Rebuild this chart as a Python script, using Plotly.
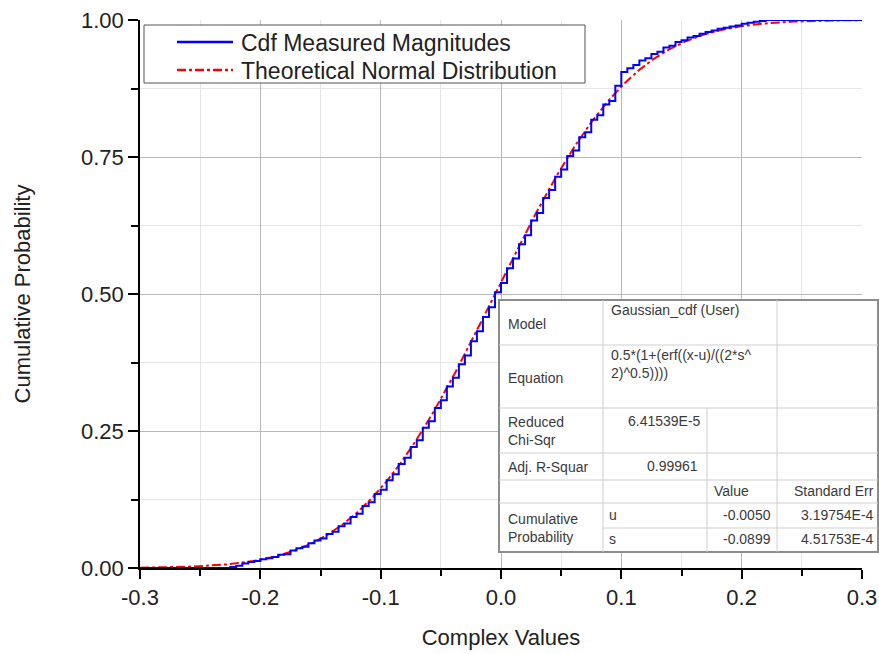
import math
import plotly.graph_objects as go

# Empirical cumulative distribution of the measured magnitudes (bin edge, cumulative probability)
cdf_x = [-0.300, -0.230, -0.225, -0.220, -0.215, -0.210, -0.205, -0.200, -0.195, -0.190,
         -0.185, -0.180, -0.175, -0.170, -0.165, -0.160, -0.155, -0.150, -0.145, -0.140,
         -0.135, -0.130, -0.125, -0.120, -0.115, -0.110, -0.105, -0.100, -0.095, -0.090,
         -0.085, -0.080, -0.075, -0.070, -0.065, -0.060, -0.055, -0.050, -0.045, -0.040,
         -0.035, -0.030, -0.025, -0.020, -0.015, -0.010, -0.005, 0.000, 0.005, 0.010,
         0.015, 0.020, 0.025, 0.030, 0.035, 0.040, 0.045, 0.050, 0.055, 0.060,
         0.065, 0.070, 0.075, 0.080, 0.085, 0.090, 0.095, 0.100, 0.105, 0.110,
         0.115, 0.120, 0.125, 0.130, 0.135, 0.140, 0.145, 0.150, 0.155, 0.160,
         0.165, 0.170, 0.175, 0.180, 0.185, 0.190, 0.195, 0.200, 0.205, 0.210,
         0.215, 0.220, 0.300]
cdf_y = [0.000, 0.000, 0.002, 0.004, 0.008, 0.011, 0.013, 0.016, 0.018, 0.020,
         0.024, 0.025, 0.032, 0.036, 0.039, 0.045, 0.050, 0.054, 0.062, 0.066,
         0.076, 0.081, 0.093, 0.099, 0.113, 0.120, 0.135, 0.143, 0.160, 0.171,
         0.190, 0.201, 0.221, 0.233, 0.256, 0.268, 0.292, 0.306, 0.331, 0.347,
         0.372, 0.388, 0.414, 0.432, 0.458, 0.476, 0.503, 0.520, 0.547, 0.565,
         0.591, 0.607, 0.634, 0.648, 0.675, 0.690, 0.714, 0.727, 0.752, 0.762,
         0.786, 0.795, 0.818, 0.826, 0.846, 0.852, 0.880, 0.905, 0.912, 0.918,
         0.926, 0.930, 0.938, 0.942, 0.950, 0.953, 0.960, 0.963, 0.968, 0.971,
         0.975, 0.978, 0.981, 0.984, 0.986, 0.988, 0.990, 0.993, 0.995, 0.997,
         0.998, 1.000, 1.000]

# Fitted Gaussian_cdf parameters
fit_u = -0.0050
fit_s = -0.0899

x_ticks = [-0.3, -0.2, -0.1, 0.0, 0.1, 0.2, 0.3]
x_tick_text = ["-0.3", "-0.2", "-0.1", "0.0", "0.1", "0.2", "0.3"]
y_ticks = [0.00, 0.25, 0.50, 0.75, 1.00]
y_tick_text = ["0.00", "0.25", "0.50", "0.75", "1.00"]

series_names = ["Cdf Measured Magnitudes", "Theoretical Normal Distribution"]
series_colors = ["#0000ff", "#ff0000"]
series_dash = ["solid", "dashdot"]

# Theoretical curve: 0.5*(1+erf((x-u)/((2*s^2)^0.5)))
theo_x = [-0.3 + i * 0.6 / 600 for i in range(601)]
theo_y = [0.5 * (1 + math.erf((x - fit_u) / math.sqrt(2 * fit_s ** 2))) for x in theo_x]

FONT = "Liberation Sans, Arial, sans-serif"
W, H = 879, 654
ML, MR, MT, MB = 140, 17, 20, 86
PW, PH = W - ML - MR, H - MT - MB


def px_x(p):
    return (p - ML) / PW


def px_y(p):
    return (MT + PH - p) / PH


fig = go.Figure()
fig.add_trace(go.Scatter(
    x=theo_x, y=theo_y, mode="lines", name=series_names[1], showlegend=False,
    line=dict(color=series_colors[1], width=2, dash=series_dash[1])))
fig.add_trace(go.Scatter(
    x=cdf_x, y=cdf_y, mode="lines", name=series_names[0], showlegend=False,
    line=dict(color=series_colors[0], width=2, shape="hv")))

shapes = []
annotations = []

# Legend box with line samples
L_L, L_R, L_T, L_B = 144, 585, 25, 83
shapes.append(dict(type="rect", xref="paper", yref="paper",
                   x0=px_x(L_L), x1=px_x(L_R), y0=px_y(L_T), y1=px_y(L_B),
                   fillcolor="white", line=dict(color="#555555", width=1), layer="above"))
for i, (name, col, dash) in enumerate(zip(series_names, series_colors, series_dash)):
    yy = 42 + 28 * i
    shapes.append(dict(type="line", xref="paper", yref="paper",
                       x0=px_x(177), x1=px_x(233), y0=px_y(yy), y1=px_y(yy),
                       line=dict(color=col, width=2.5, dash=dash), layer="above"))
    annotations.append(dict(text=name, x=px_x(239), y=px_y(yy + 1), xref="paper", yref="paper",
                            xanchor="left", yanchor="middle", showarrow=False,
                            font=dict(family=FONT, size=23, color="#222222")))

# Fit results table
T_L, T_R, T_T, T_B = 499, 878, 300, 552
shapes.append(dict(type="rect", xref="paper", yref="paper",
                   x0=px_x(T_L), x1=px_x(T_R), y0=px_y(T_T), y1=px_y(T_B),
                   fillcolor="white", line=dict(color="#8c8c8c", width=2), layer="above"))
grid_col = "#cfcfcf"
for yy, xa in [(345, T_L), (408, T_L), (453, T_L), (480, T_L), (503, T_L), (528, 603)]:
    shapes.append(dict(type="line", xref="paper", yref="paper", x0=px_x(xa), x1=px_x(T_R),
                       y0=px_y(yy), y1=px_y(yy), line=dict(color=grid_col, width=1), layer="above"))
for xx, ya in [(603, T_T), (707, 408), (777, T_T)]:
    shapes.append(dict(type="line", xref="paper", yref="paper", x0=px_x(xx), x1=px_x(xx),
                       y0=px_y(ya), y1=px_y(T_B), line=dict(color=grid_col, width=1), layer="above"))

cells = [
    ("Model", 506, 324, "left"),
    ("Gaussian_cdf (User)", 609, 310, "left"),
    ("Equation", 506, 378, "left"),
    ("0.5*(1+(erf((x-u)/((2*s^<br>2)^0.5))))", 609, 364, "left"),
    ("Reduced<br>Chi-Sqr", 506, 431, "left"),
    ("6.41539E-5", 703, 421, "right"),
    ("Adj. R-Squar", 506, 467, "left"),
    ("0.99961", 700, 466, "right"),
    ("Value", 712, 491, "left"),
    ("Standard Err", 876, 491, "right"),
    ("Cumulative<br>Probability", 506, 528, "left"),
    ("u", 607, 515, "left"),
    ("-0.0050", 773, 515, "right"),
    ("3.19754E-4", 876, 515, "right"),
    ("s", 607, 539, "left"),
    ("-0.0899", 773, 539, "right"),
    ("4.51753E-4", 876, 539, "right"),
]
for text, ax_, ay_, align in cells:
    annotations.append(dict(text=text, x=px_x(ax_), y=px_y(ay_), xref="paper", yref="paper",
                            xanchor=align, yanchor="middle", align="left", showarrow=False,
                            font=dict(family=FONT, size=14, color="#3a3a3a")))

fig.update_layout(
    width=W, height=H,
    margin=dict(l=ML, r=MR, t=MT, b=MB, autoexpand=False),
    paper_bgcolor="white", plot_bgcolor="white",
    font=dict(family=FONT, color="#222222"),
    showlegend=False,
    shapes=shapes,
    annotations=annotations,
)
fig.update_xaxes(
    range=[-0.3, 0.3], tickvals=x_ticks, ticktext=x_tick_text,
    showline=True, linecolor="black", linewidth=1.5,
    ticks="outside", ticklen=9, tickwidth=1.5, tickcolor="black",
    tickfont=dict(family=FONT, size=22, color="#222222"),
    showgrid=True, gridcolor="#b8b8b8", gridwidth=1, zeroline=False,
    minor=dict(dtick=0.05, tick0=-0.3, ticks="outside", ticklen=6, tickwidth=1.5,
               tickcolor="black", showgrid=True, gridcolor="#e6e6e6", gridwidth=1),
    title=dict(text="Complex Values", standoff=20,
               font=dict(family=FONT, size=22, color="#222222")),
)
fig.update_yaxes(
    range=[0, 1], tickvals=y_ticks, ticktext=y_tick_text,
    showline=True, linecolor="black", linewidth=1.5,
    ticks="outside", ticklen=10, tickwidth=1.5, tickcolor="black",
    tickfont=dict(family=FONT, size=22, color="#222222"),
    showgrid=True, gridcolor="#b8b8b8", gridwidth=1, zeroline=False,
    minor=dict(dtick=0.125, tick0=0, ticks="outside", ticklen=7, tickwidth=1.5,
               tickcolor="black", showgrid=True, gridcolor="#e6e6e6", gridwidth=1),
    title=dict(text="Cumulative Probability", standoff=44,
               font=dict(family=FONT, size=22, color="#222222")),
)

fig.write_html("out.html")
